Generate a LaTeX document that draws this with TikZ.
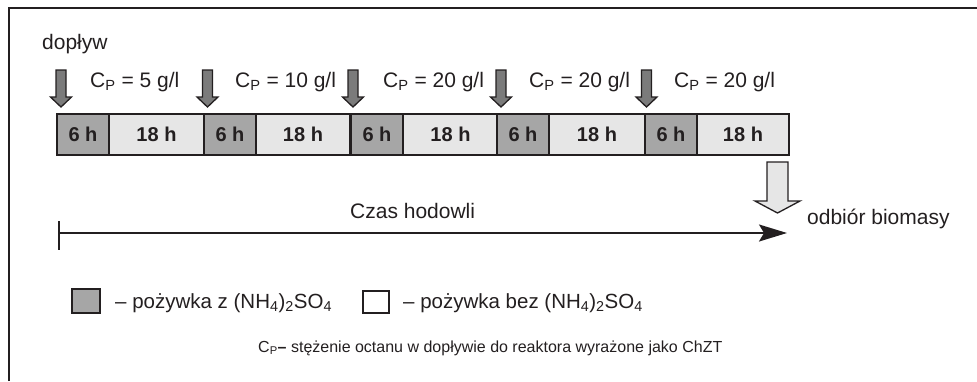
\documentclass[tikz,border=0pt]{standalone}
\usepackage{fontspec}
\setmainfont{Liberation Sans}
\usetikzlibrary{arrows.meta}
\definecolor{ink}{HTML}{231F20}
\definecolor{darkfill}{HTML}{A6A6A6}
\definecolor{lightfill}{HTML}{E6E6E6}
\definecolor{arrowfill}{HTML}{7B7B7B}
\tikzset{
  feedarrow/.pic={\draw[fill=arrowfill, draw=ink, line width=1.3pt, line join=miter]
    (-5,-37) -- (5,-37) -- (5,-10) -- (10.5,-10) -- (0,0) -- (-10.5,-10) -- (-5,-10) -- cycle;},
  outarrow/.pic={\draw[fill=lightfill, draw=ink, line width=1.3pt, line join=miter]
    (-10.5,-51) -- (10.5,-51) -- (10.5,-12) -- (22.5,-12) -- (0,0) -- (-22.5,-12) -- (-10.5,-12) -- cycle;},
}
\begin{document}
\begin{tikzpicture}[x=1pt,y=-1pt,
  every node/.style={text=ink, font=\fontsize{21}{25}\selectfont},
  seg/.style={draw=ink, line width=1.6pt, minimum height=41pt, inner sep=0pt, outer sep=0pt,
    font=\bfseries\fontsize{20}{24}\selectfont, anchor=north west},
  darkseg/.style={seg, fill=darkfill, minimum width=52pt},
  lightseg/.style={seg, fill=lightfill, minimum width=#1},
  legbox/.style={draw=ink, line width=1.3pt, inner sep=0pt, outer sep=0pt, anchor=north west},
  lbl/.style={anchor=base west, inner sep=0pt},
  legtext/.style={lbl, font=\fontsize{20.5}{24}\selectfont},
  axis/.style={draw=ink, line width=1.8pt},
]
\useasboundingbox (0,0) rectangle (977,381);
% frame
\draw[ink, line width=2pt] (9,381) -- (9,8) -- (977,8);

% segments
\node[darkseg] (d1) at (57,114) {6 h};
\node[lightseg=95pt] (l1) at (d1.north east) {18 h};
\node[darkseg] (d2) at (204,114) {6 h};
\node[lightseg=94pt] (l2) at (d2.north east) {18 h};
\node[darkseg] (d3) at (351,114) {6 h};
\node[lightseg=95pt] (l3) at (d3.north east) {18 h};
\node[darkseg] (d4) at (497,114) {6 h};
\node[lightseg=96pt] (l4) at (d4.north east) {18 h};
\node[darkseg] (d5) at (645,114) {6 h};
\node[lightseg=92pt] (l5) at (d5.north east) {18 h};

% feed arrows
\pic at (61,107) {feedarrow};
\pic at (207.5,107) {feedarrow};
\pic at (353,107) {feedarrow};
\pic at (501,107) {feedarrow};
\pic at (646.5,107) {feedarrow};
% output arrow
\pic at (777.5,213) {outarrow};

% labels
\node[lbl] (dop) at (42,49) {dopływ};
\node[lbl] (c1) at (90,87) {C\textsubscript{P} = 5 g/l};
\node[lbl] (c2) at (235,87) {C\textsubscript{P} = 10 g/l};
\node[lbl] (c3) at (383,87) {C\textsubscript{P} = 20 g/l};
\node[lbl] (c4) at (529,87) {C\textsubscript{P} = 20 g/l};
\node[lbl] (c5) at (674,87) {C\textsubscript{P} = 20 g/l};

% time axis
\coordinate (t0) at (59,233);
\coordinate (t1) at (787,233);
\draw[axis, -{Stealth[length=28pt,width=17pt,inset=5pt]}] (t0) -- (t1);
\draw[axis] (t0) ++(0,-12) -- ++(0,29);
\node[lbl] (czas) at (350,218) {Czas hodowli};
\node[lbl] (odb) at (807,224) {odbiór biomasy};

% legend
\node[legbox, fill=darkfill, minimum width=28pt, minimum height=24pt] (k1) at (72,289) {};
\node[legtext] (lg1) at (115,308) {– pożywka z (NH\textsubscript{4})\textsubscript{2}SO\textsubscript{4}};
\node[legbox, fill=white, minimum width=26pt, minimum height=22pt] (k2) at (363,291) {};
\node[legtext] (lg2) at (403,308) {– pożywka bez (NH\textsubscript{4})\textsubscript{2}SO\textsubscript{4}};

% footnote
\node[lbl, font=\fontsize{16}{19}\selectfont] (fn) at (258,352) {C\textsubscript{P}\textbf{–} stężenie octanu w dopływie do reaktora wyrażone jako ChZT};
\end{tikzpicture}
\end{document}
